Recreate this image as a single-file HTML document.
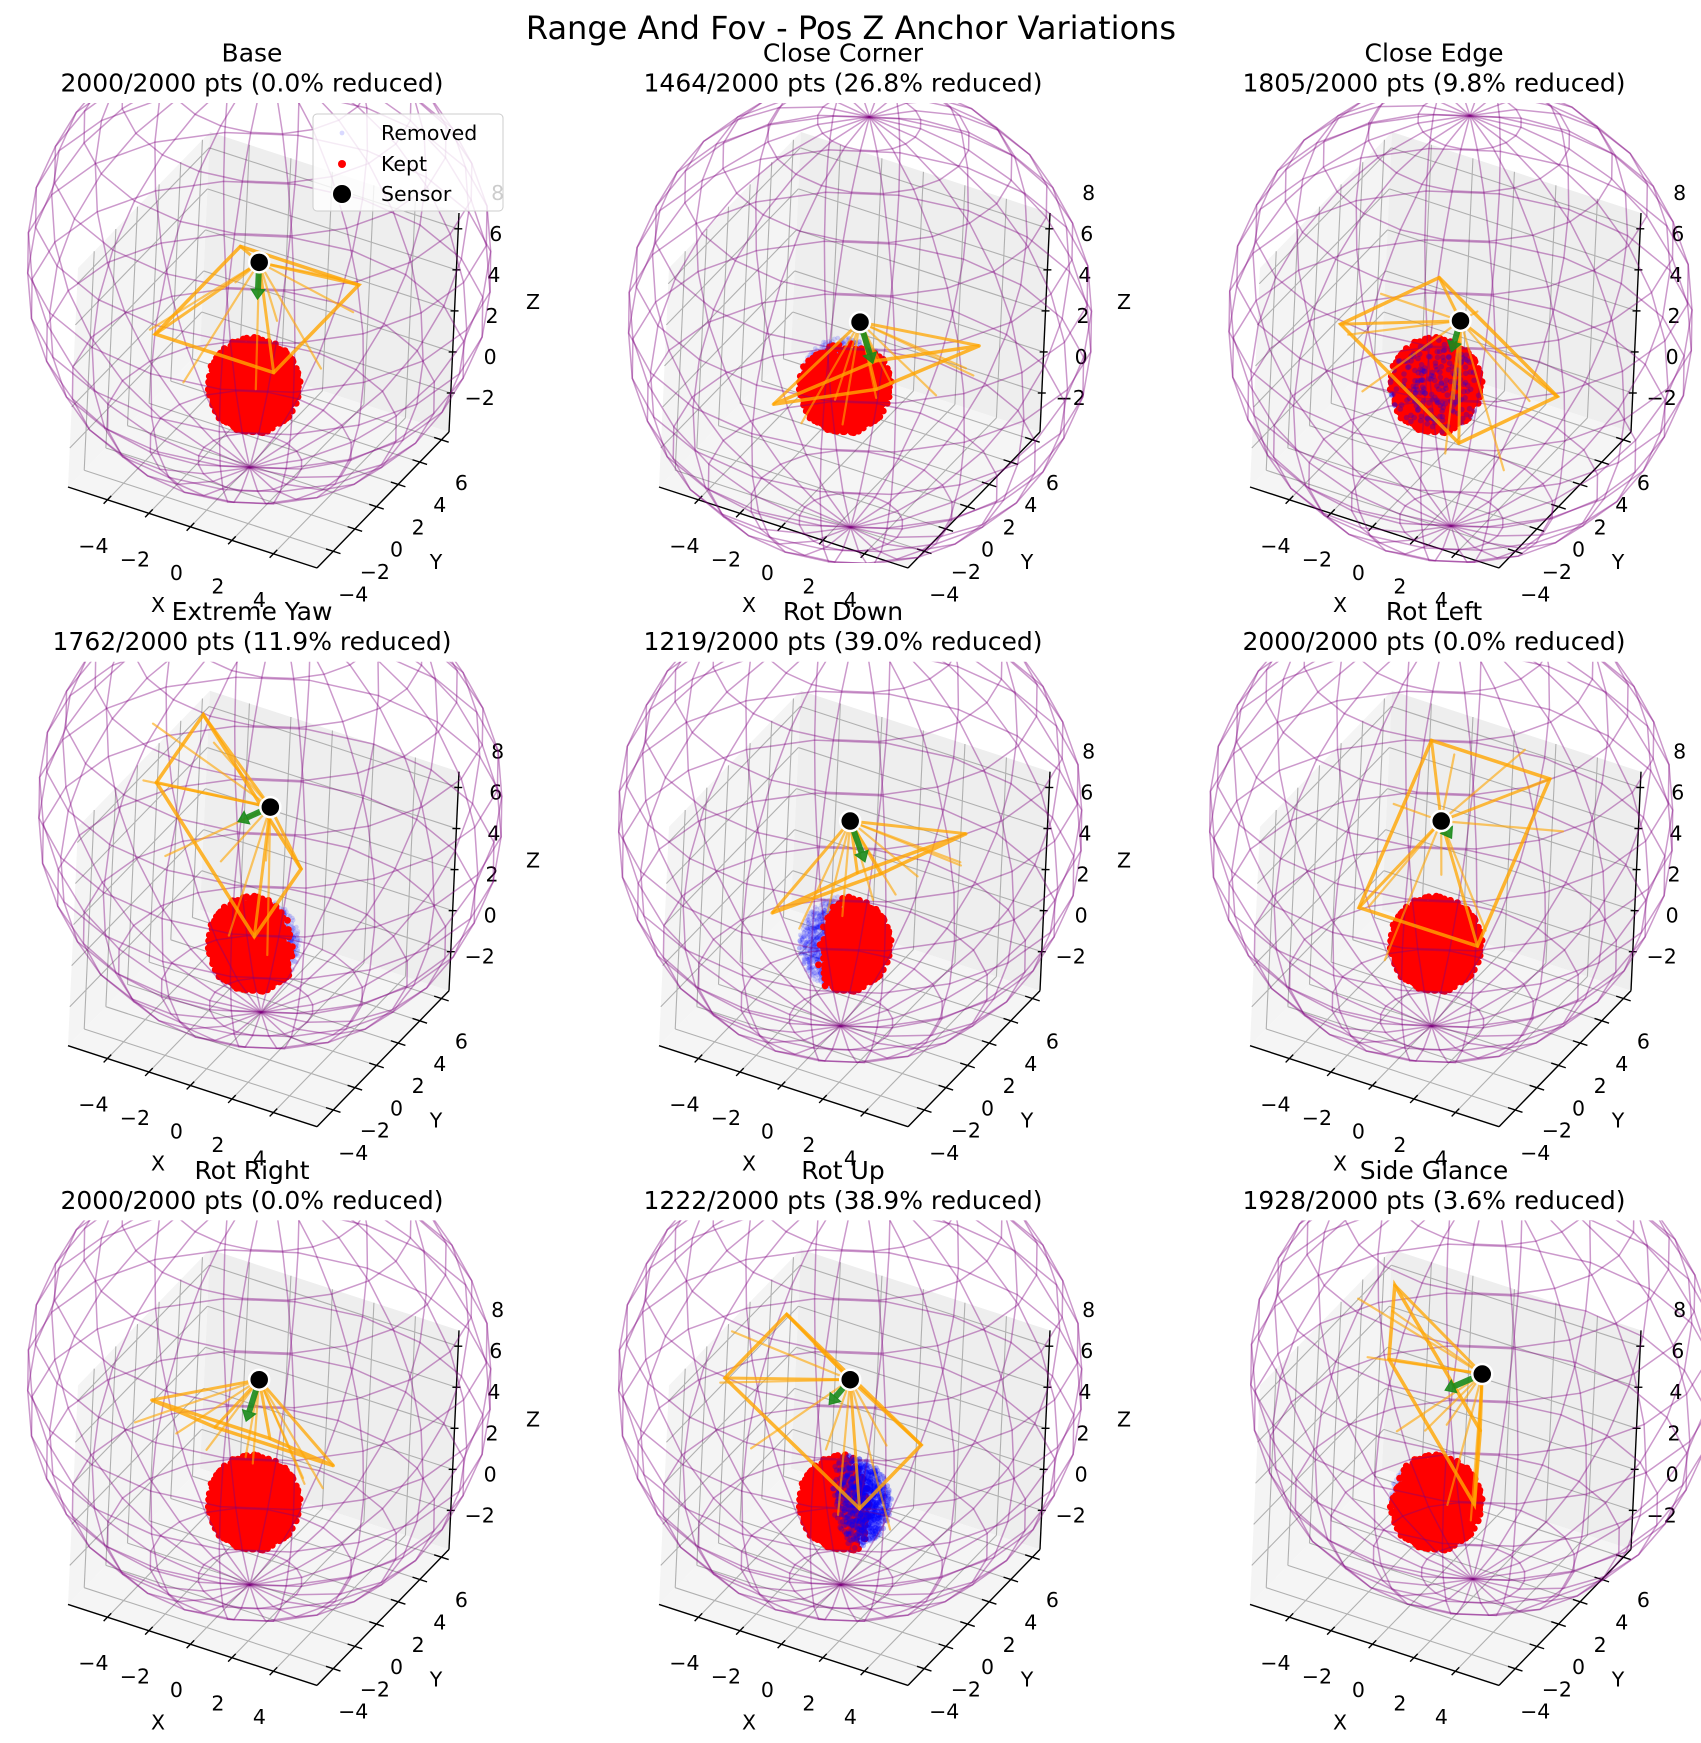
<!DOCTYPE html>
<html><head><meta charset="utf-8"><title>Range And Fov - Pos Z Anchor Variations</title>
<style>html,body{margin:0;padding:0;background:#fff}svg{display:block;font-family:"DejaVu Sans","Liberation Sans",sans-serif}</style>
</head><body>
<svg id="fig" xmlns="http://www.w3.org/2000/svg" width="1701" height="1743" viewBox="0 0 1701 1743">
<rect width="1701" height="1743" fill="#fff"/>
<text x="851" y="28" font-size="32" text-anchor="middle" dominant-baseline="central">Range And Fov - Pos Z Anchor Variations</text>
<g id="panels"></g>
</svg>
<script>
const titles=["Base","Close Corner","Close Edge","Extreme Yaw","Rot Down","Rot Left","Rot Right","Rot Up","Side Glance"];
const keptCounts=[2000,1464,1805,1762,1219,2000,2000,1222,1928];
const reducedPct=["0.0","26.8","9.8","11.9","39.0","0.0","0.0","38.9","3.6"];
const totalPoints=2000;
const sensorX=[0,0.4,0.7,0.4,0,0,0,0,1.3];
const sensorY=[0,0.4,0.7,0.2,0,0,0,0,1.3];
const sensorZ=[6,3,3,6.7,6,6,6,6,6];
const yawDeg=[-90,-23,160,-173,-27,90,-90,180,-155];
const pitchDeg=[-90,-58,-75,-37,-49,-53,-53,-58,-30];
const removedDirX=[0,-0.5,0,0.6,-0.6,0,0,0.6,-1];
const removedDirY=[0,0.8,0,0.8,-0.6,0,0,0.8,0];
const removedDirZ=[0,0.2,0,0,0.3,0,0,-0.1,0];
const removedScatter=[false,false,true,false,false,false,false,false,false];
const blueOnTop=[false,false,true,false,false,false,false,true,false];
const xTicks=[-4,-2,0,2,4];
const yTicks=[-4,-2,0,2,4,6];
const zTicks=[-2,0,2,4,6,8];
const XMIN=-5.9,XMAX=6.1,YMIN=-5.5,YMAX=6.7,ZMIN=-3.9,ZMAX=6.77;
const CLOUD_R=2, RANGE_R=10;

const NS="http://www.w3.org/2000/svg";
function proj(x,y,z){const fx=(x-XMIN)/(XMAX-XMIN),fy=(y-YMIN)/(YMAX-YMIN),fz=(z-ZMIN)/(ZMAX-ZMIN);
 return [68+249*fx+132*fy+10*fz, 487+81*fx-136*fy-219*fz];}
function mk(tag,attrs,parent){const e=document.createElementNS(NS,tag);for(const k in attrs)e.setAttribute(k,attrs[k]);parent.appendChild(e);return e;}
function pts(list){return list.map(p=>p[0].toFixed(1)+","+p[1].toFixed(1)).join(" ");}
function halton(i,b){let f=1,r=0;while(i>0){f/=b;r+=f*(i%b);i=Math.floor(i/b);}return r;}
const cloud=[];
for(let i=1;i<=totalPoints;i++){
 const u=halton(i,2),v=halton(i,3),w=halton(i,5);
 const r=CLOUD_R*Math.cbrt(u),ct=1-2*v,st=Math.sqrt(1-ct*ct),ph=2*Math.PI*w;
 cloud.push([r*st*Math.cos(ph),r*st*Math.sin(ph),r*ct]);
}
const view=[0.433,-0.75,0.5];
const root=document.getElementById('panels');
const defs=mk('defs',{},document.getElementById('fig'));
const rayA=[0.9,0.3,-0.6,-0.2,0.7,-0.95,0.1,0.5];
const rayB=[-0.2,0.95,0.5,-0.9,0.6,-0.4,0.2,-0.7];

for(let p=0;p<9;p++){
 const c=p%3,r=Math.floor(p/3);
 const g=mk('g',{transform:`translate(${591*c},${(558.7*r).toFixed(1)})`},root);
 
 
 const removed=totalPoints-keptCounts[p];
 const t1=mk('text',{x:252,y:53,'font-size':25,'text-anchor':'middle','dominant-baseline':'central'},g);t1.textContent=titles[p];
 
 
 const t2=mk('text',{x:252,y:83,'font-size':25,'text-anchor':'middle','dominant-baseline':'central'},g);t2.textContent=`${keptCounts[p]}/${totalPoints} pts (${reducedPct[p]}% reduced)`;
 
 
 const panes=mk('g',{},g);
 
 
 mk('polygon',{points:pts([proj(XMIN,YMIN,ZMIN),proj(XMIN,YMAX,ZMIN),proj(XMIN,YMAX,ZMAX),proj(XMIN,YMIN,ZMAX)]),fill:'#f4f4f4'},panes);
 mk('polygon',{points:pts([proj(XMIN,YMAX,ZMIN),proj(XMAX,YMAX,ZMIN),proj(XMAX,YMAX,ZMAX),proj(XMIN,YMAX,ZMAX)]),fill:'#eeeeee'},panes);
 mk('polygon',{points:pts([proj(XMIN,YMIN,ZMIN),proj(XMAX,YMIN,ZMIN),proj(XMAX,YMAX,ZMIN),proj(XMIN,YMAX,ZMIN)]),fill:'#f5f5f5'},panes);
 const grid=mk('g',{stroke:'#b0b0b0','stroke-width':1.1,fill:'none'},g);
 
 
 const L=(a,b)=>mk('line',{x1:a[0],y1:a[1],x2:b[0],y2:b[1]},grid);
 for(const xt of xTicks){L(proj(xt,YMIN,ZMIN),proj(xt,YMAX,ZMIN));L(proj(xt,YMAX,ZMIN),proj(xt,YMAX,ZMAX));}
 for(const yt of yTicks){L(proj(XMIN,yt,ZMIN),proj(XMAX,yt,ZMIN));L(proj(XMIN,yt,ZMIN),proj(XMIN,yt,ZMAX));}
 for(const zt of zTicks){if(zt>ZMAX)continue;L(proj(XMIN,YMIN,zt),proj(XMIN,YMAX,zt));L(proj(XMIN,YMAX,zt),proj(XMAX,YMAX,zt));}
 const ax=mk('g',{stroke:'#000','stroke-width':1.4},g);
 
 
 const A=(a,b)=>mk('line',{x1:a[0],y1:a[1],x2:b[0],y2:b[1]},ax);
 A(proj(XMIN,YMIN,ZMIN),proj(XMAX,YMIN,ZMIN));A(proj(XMAX,YMIN,ZMIN),proj(XMAX,YMAX,ZMIN));A(proj(XMAX,YMAX,ZMIN),proj(XMAX,YMAX,ZMAX));
 const lab=mk('g',{'font-size':20.5,'dominant-baseline':'central'},g);
 
 
 for(const xt of xTicks){A(proj(xt,YMIN-0.35,ZMIN),proj(xt,YMIN+0.35,ZMIN));const q=proj(xt,YMIN,ZMIN);
  const e=mk('text',{x:q[0]-14,y:q[1]+46,'text-anchor':'middle'},lab);e.textContent=(xt<0?'\u2212':'')+Math.abs(xt);}
 for(const yt of yTicks){A(proj(XMAX-0.35,yt,ZMIN),proj(XMAX+0.35,yt,ZMIN));const q=proj(XMAX,yt,ZMIN);
  const e=mk('text',{x:q[0]+20,y:q[1]+43,'text-anchor':'middle'},lab);e.textContent=(yt<0?'\u2212':'')+Math.abs(yt);}
 for(const zt of zTicks){const q=proj(XMAX,YMAX,zt);if(zt<=ZMAX)A([q[0]-4,q[1]],[q[0]+4,q[1]]);
  const e=mk('text',{x:q[0]+44,y:q[1]+5,'text-anchor':'end'},lab);e.textContent=(zt<0?'\u2212':'')+Math.abs(zt);}
 [['X',158,605],['Y',436,562],['Z',533,302]].forEach(([s,x,y])=>{const e=mk('text',{x:x,y:y,'font-size':20.5,'text-anchor':'middle','dominant-baseline':'central'},g);e.textContent=s;
  
  });
 const cp=mk('clipPath',{id:'clip'+p},defs);
 mk('rect',{x:13,y:103,width:(c==2?506:575),height:460},cp);
 const data=mk('g',{'clip-path':`url(#clip${p})`},g);
 const S=[sensorX[p],sensorY[p],sensorZ[p]];
 const isRem=new Array(totalPoints).fill(false);
 if(removed>0){
  if(removedScatter[p]){const step=totalPoints/removed;for(let k=0;k<removed;k++)isRem[Math.floor(k*step)]=true;}
  else{const d=[removedDirX[p],removedDirY[p],removedDirZ[p]];
   const idx=cloud.map((q,i)=>i).sort((a,b)=>(cloud[b][0]*d[0]+cloud[b][1]*d[1]+cloud[b][2]*d[2])-(cloud[a][0]*d[0]+cloud[a][1]*d[1]+cloud[a][2]*d[2]));
   for(let k=0;k<removed;k++)isRem[idx[k]]=true;}
 }
 const order=cloud.map((q,i)=>i).sort((a,b)=>(cloud[a][0]*view[0]+cloud[a][1]*view[1]+cloud[a][2]*view[2])-(cloud[b][0]*view[0]+cloud[b][1]*view[1]+cloud[b][2]*view[2]));
 const blueG=mk('g',{fill:'#0000ff','fill-opacity':blueOnTop[p]?0.28:0.15},data);
 
 
 const redG=mk('g',{fill:'#ff0000'},data);
 
 
 if(blueOnTop[p])data.appendChild(blueG);
 for(const i of order){const q=proj(cloud[i][0],cloud[i][1],cloud[i][2]);
  if(isRem[i])mk('circle',{cx:q[0].toFixed(1),cy:q[1].toFixed(1),r:blueOnTop[p]?2.8:2.4},blueG);
  else mk('circle',{cx:q[0].toFixed(1),cy:q[1].toFixed(1),r:3.4},redG);}
 const wf=mk('g',{stroke:'#800080','stroke-opacity':0.4,'stroke-width':1.5,fill:'none'},data);
 
 
 const NU=20,NV=15;
 for(let k=0;k<NU;k++){const ph=2*Math.PI*k/NU,l=[];for(let j=0;j<NV;j++){const th=Math.PI*j/(NV-1);
  l.push(proj(S[0]+RANGE_R*Math.sin(th)*Math.cos(ph),S[1]+RANGE_R*Math.sin(th)*Math.sin(ph),S[2]+RANGE_R*Math.cos(th)));}
  mk('polyline',{points:pts(l)},wf);}
 for(let j=1;j<NV-1;j++){const th=Math.PI*j/(NV-1),l=[];for(let k=0;k<=NU;k++){const ph=2*Math.PI*k/NU;
  l.push(proj(S[0]+RANGE_R*Math.sin(th)*Math.cos(ph),S[1]+RANGE_R*Math.sin(th)*Math.sin(ph),S[2]+RANGE_R*Math.cos(th)));}
  mk('polyline',{points:pts(l)},wf);}
 const yw=yawDeg[p]*Math.PI/180,pt=pitchDeg[p]*Math.PI/180;
 const f=[Math.cos(pt)*Math.cos(yw),Math.cos(pt)*Math.sin(yw),Math.sin(pt)];
 const rr=[-Math.sin(yw),Math.cos(yw),0];
 const uu=[rr[1]*f[2]-rr[2]*f[1],rr[2]*f[0]-rr[0]*f[2],rr[0]*f[1]-rr[1]*f[0]];
 const D=2.3,TX=1.24,TY=1.71;
 const at=(a,b,dd)=>proj(S[0]+dd*(f[0]+a*TX*rr[0]+b*TY*uu[0]),S[1]+dd*(f[1]+a*TX*rr[1]+b*TY*uu[1]),S[2]+dd*(f[2]+a*TX*rr[2]+b*TY*uu[2]));
 const fr=mk('g',{stroke:'#ffa500',fill:'none','stroke-linecap':'round'},data);
 
 
 const sp=proj(S[0],S[1],S[2]);
 for(let k=0;k<8;k++){const q=at(rayA[k],rayB[k],D*1.45);mk('line',{x1:sp[0],y1:sp[1],x2:q[0],y2:q[1],'stroke-width':2.2,'stroke-opacity':0.6},fr);}
 const corners=[at(-1,-1,D),at(1,-1,D),at(1,1,D),at(-1,1,D)];
 mk('polygon',{points:pts(corners),'stroke-width':3.5,'stroke-opacity':0.8},fr);
 for(const q of corners)mk('line',{x1:sp[0],y1:sp[1],x2:q[0],y2:q[1],'stroke-width':3,'stroke-opacity':0.75},fr);
 const tip=proj(S[0]+1.8*f[0],S[1]+1.8*f[1],S[2]+1.8*f[2]);
 const dx=tip[0]-sp[0],dy=tip[1]-sp[1],len=Math.hypot(dx,dy)||1,ux=dx/len,uy=dy/len;
 const hb=[tip[0]-ux*10,tip[1]-uy*10];
 const arr=mk('g',{fill:'#1a8a1a',stroke:'#1a8a1a','fill-opacity':0.9,'stroke-opacity':0.9},data);
 
 
 mk('line',{x1:sp[0],y1:sp[1],x2:hb[0],y2:hb[1],'stroke-width':6},arr);
 mk('polygon',{points:pts([tip,[hb[0]-uy*7,hb[1]+ux*7],[hb[0]+uy*7,hb[1]-ux*7]]),'stroke-width':1},arr);
 const sc=mk('circle',{cx:sp[0],cy:sp[1],r:10,fill:'#000',stroke:'#fff','stroke-width':2.5},data);
 
 
 if(p===0){
  const lg=mk('g',{},g);
  
  
  mk('rect',{x:313,y:114,width:190,height:97,rx:4,fill:'#fff','fill-opacity':0.8,stroke:'#cccccc','stroke-width':1},lg);
  mk('circle',{cx:342,cy:133,r:2.4,fill:'#0000ff','fill-opacity':0.15},lg);
  mk('circle',{cx:342,cy:164,r:4,fill:'#ff0000'},lg);
  mk('circle',{cx:342,cy:194,r:10,fill:'#000',stroke:'#fff','stroke-width':2},lg);
  [['Removed',133],['Kept',164],['Sensor',194]].forEach(([s,y])=>{const e=mk('text',{x:381,y:y,'font-size':20.5,'dominant-baseline':'central'},lg);e.textContent=s;
   
   });
 }
}
</script>
</body></html>
